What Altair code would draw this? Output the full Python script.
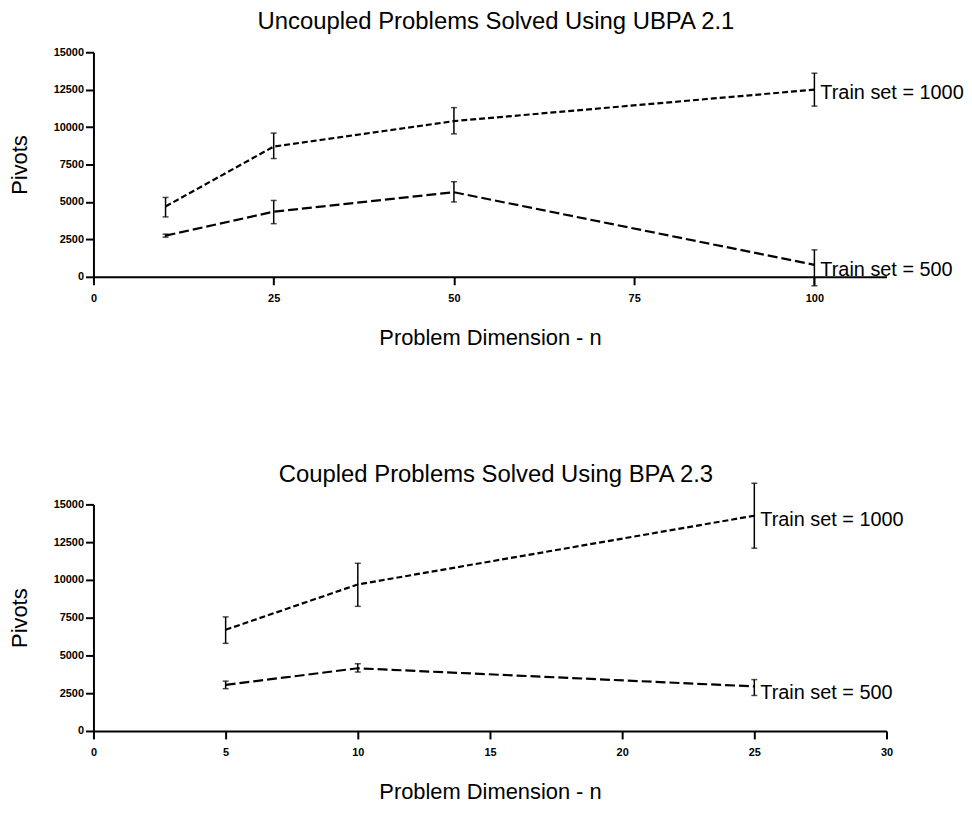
import altair as alt
import pandas as pd

FONT = "Liberation Sans"

# ---- Top panel: Uncoupled Problems Solved Using UBPA 2.1 ----
top_n = [10, 25, 50, 100]
top_1000 = [4700, 8700, 10400, 12500]
top_1000_lo = [4000, 7900, 9550, 11400]
top_1000_hi = [5300, 9600, 11300, 13600]
top_500 = [2750, 4350, 5650, 800]
top_500_lo = [2650, 3550, 5000, -600]
top_500_hi = [2850, 5100, 6350, 1800]
top_xticks = [0, 25, 50, 75, 100]

# ---- Bottom panel: Coupled Problems Solved Using BPA 2.3 ----
bot_n = [5, 10, 25]
bot_1000 = [6700, 9700, 14250]
bot_1000_lo = [5800, 8250, 12100]
bot_1000_hi = [7550, 11100, 16400]
bot_500 = [3050, 4150, 2950]
bot_500_lo = [2800, 3900, 2350]
bot_500_hi = [3300, 4450, 3400]
bot_xticks = [0, 5, 10, 15, 20, 25, 30]

yticks = [0, 2500, 5000, 7500, 10000, 12500, 15000]
S1000 = "Train set = 1000"
S500 = "Train set = 500"


def make_df(n, m1, lo1, hi1, m5, lo5, hi5):
    rows = []
    for name, m, lo, hi in [(S1000, m1, lo1, hi1), (S500, m5, lo5, hi5)]:
        for i in range(len(n)):
            rows.append(dict(n=n[i], pivots=m[i], lo=lo[i], hi=hi[i],
                             series=name, last=(i == len(n) - 1)))
    return pd.DataFrame(rows)


def panel(title, df, xmax, xticks, height, dys, title_offset):
    xs = alt.Scale(domain=[0, xmax], nice=False, zero=True)
    ys = alt.Scale(domain=[0, 15000], nice=False)
    xax = alt.Axis(values=xticks, title="Problem Dimension - n", format="d")
    yax = alt.Axis(values=yticks, title="Pivots", format="d")
    X = alt.X("n:Q", scale=xs, axis=xax)
    base = alt.Chart(df)
    lines = base.mark_line(color="black", strokeWidth=2.2).encode(
        x=X,
        y=alt.Y("pivots:Q", scale=ys, axis=yax),
        detail="series:N",
        strokeDash=alt.StrokeDash(
            "series:N",
            scale=alt.Scale(domain=[S1000, S500], range=[[6, 3], [10, 4]]),
            legend=None,
        ),
    )
    rules = base.mark_rule(color="black", strokeWidth=1.5).encode(
        x=X, y=alt.Y("lo:Q", scale=ys, axis=yax), y2="hi:Q"
    )
    cap_lo = base.mark_tick(orient="horizontal", size=6, thickness=1.5, color="black").encode(
        x=X, y=alt.Y("lo:Q", scale=ys, axis=yax)
    )
    cap_hi = base.mark_tick(orient="horizontal", size=6, thickness=1.5, color="black").encode(
        x=X, y=alt.Y("hi:Q", scale=ys, axis=yax)
    )
    labels = []
    for name, dy in zip([S1000, S500], dys):
        labels.append(
            base.transform_filter((alt.datum.series == name) & alt.datum.last)
            .mark_text(align="left", baseline="middle", dx=6, dy=dy, fontSize=20,
                       font=FONT, color="black")
            .encode(x=X, y=alt.Y("pivots:Q", scale=ys, axis=yax), text="series:N")
        )
    return alt.layer(lines, rules, cap_lo, cap_hi, *labels).properties(
        width=798,
        height=height,
        title=alt.TitleParams(title, fontSize=24, font=FONT, fontWeight="normal",
                              anchor="middle", offset=title_offset, dx=6, color="black"),
    )


top_df = make_df(top_n, top_1000, top_1000_lo, top_1000_hi, top_500, top_500_lo, top_500_hi)
bot_df = make_df(bot_n, bot_1000, bot_1000_lo, bot_1000_hi, bot_500, bot_500_lo, bot_500_hi)

top = panel("Uncoupled Problems Solved Using UBPA 2.1", top_df, 110, top_xticks, 226, [3, 5], 12)
bot = panel("Coupled Problems Solved Using BPA 2.3", bot_df, 30, bot_xticks, 228, [4, 7], -5)

chart = (
    alt.vconcat(top, bot, spacing=115)
    .properties(padding=0, background="white")
    .configure_view(stroke=None)
    .configure_axis(
        grid=False,
        domainColor="black",
        domainWidth=2,
        tickColor="black",
        tickWidth=2,
        tickSize=8,
        labelFont=FONT,
        labelFontSize=11,
        labelFontWeight="bold",
        labelColor="black",
        labelFlush=False,
        labelOverlap=False,
        titleFont=FONT,
        titleFontSize=22,
        titleFontWeight="normal",
        titleColor="black",
    )
    .configure_axisX(labelPadding=8, titlePadding=24)
    .configure_axisY(labelPadding=2, titlePadding=22)
)

chart.save("out.html", embed_options={"renderer": "svg", "actions": False})
